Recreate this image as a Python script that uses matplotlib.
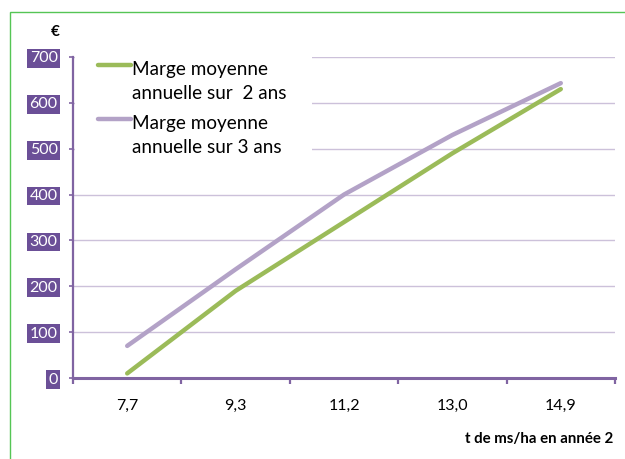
import matplotlib
matplotlib.use("Agg")
import matplotlib.pyplot as plt
from matplotlib.patches import Rectangle
from matplotlib.lines import Line2D

categories = ["7,7", "9,3", "11,2", "13,0", "14,9"]
marge_2ans = [10, 190, 340, 490, 630]
marge_3ans = [70, 237, 400, 530, 643]
series_labels = [["Marge moyenne", "annuelle sur  2 ans"],
                 ["Marge moyenne", "annuelle sur 3 ans"]]
yticks = [0, 100, 200, 300, 400, 500, 600, 700]

FONT = "Lato"
plt.rcParams['font.family'] = [FONT, 'DejaVu Sans']

GREEN = "#9BBB59"
LAV = "#B3A2C7"
AXIS = "#8064A2"
GRID = "#CCC1DA"
BOX = "#6B4F97"

W, H = 625, 459
fig = plt.figure(figsize=(W / 100, H / 100), dpi=100)
fig.patch.set_facecolor("white")

# green border
fig.patches.append(Rectangle((10 / W, -0.1), 1.2, 1 - 12 / H + 0.1,
                             transform=fig.transFigure, fill=False,
                             edgecolor="#55C555", linewidth=1.0))

ax = fig.add_axes([73 / W, 1 - 378 / H, (615 - 73) / W, (378 - 57) / H])
x = list(range(len(categories)))

ax.set_xlim(-0.5, len(categories) - 0.5)
ax.set_ylim(0, 700)

for s in ["top", "right"]:
    ax.spines[s].set_visible(False)
ax.spines["left"].set_color(AXIS)
ax.spines["left"].set_linewidth(1.6)
ax.spines["bottom"].set_color(AXIS)
ax.spines["bottom"].set_linewidth(2.2)

ax.set_yticks(yticks)
ax.set_yticklabels([str(v) for v in yticks])
ax.yaxis.grid(True, color=GRID, linewidth=1.0)
ax.set_axisbelow(True)
ax.tick_params(axis="y", direction="out", length=3, width=1.2, color=AXIS,
               pad=8, labelsize=11.5, labelcolor="white")
for lab in ax.get_yticklabels():
    lab.set_bbox(dict(boxstyle="square,pad=0.15", facecolor=BOX, edgecolor="none"))

ax.set_xticks(x)
ax.set_xticklabels(categories)
ax.set_xticks([i - 0.5 for i in range(len(categories) + 1)], minor=True)
ax.tick_params(axis="x", which="major", length=0, pad=15, labelsize=11.5, labelcolor="black")
ax.tick_params(axis="x", which="minor", direction="out", length=4, width=1.6, color=AXIS)

# white legend area covering gridlines
ax.add_patch(Rectangle((0.004, 0.68), 0.437, 0.34, transform=ax.transAxes,
                       facecolor="white", edgecolor="none", zorder=1.5, clip_on=False))

ax.plot(x, marge_2ans, color=GREEN, linewidth=3.2, solid_capstyle="round", zorder=3)
ax.plot(x, marge_3ans, color=LAV, linewidth=3.2, solid_capstyle="round", zorder=3)

def px2ax(px, py):
    return (px - 73) / 542, (378 - py) / 321

# manual legend
for color, lines, hy, ty in [(GREEN, series_labels[0], 65, 67.5),
                             (LAV, series_labels[1], 119, 121.7)]:
    x0, y0 = px2ax(98, hy)
    x1, _ = px2ax(131, hy)
    ax.add_line(Line2D([x0, x1], [y0, y0], transform=ax.transAxes, color=color,
                       linewidth=3.2, solid_capstyle="round", zorder=4, clip_on=False))
    for k, t in enumerate(lines):
        tx, tyy = px2ax(132, ty + 24.3 * k)
        ax.text(tx, tyy, t, transform=ax.transAxes, ha="left", va="center_baseline",
                fontsize=13.6, color="black", zorder=4)

fig.text(55 / W, 1 - 32 / H, "€", ha="center", va="center", fontsize=11,
         fontweight="bold", color="black")
fig.text(613 / W, 1 - 439 / H, "t de ms/ha en année 2", ha="right", va="center",
         fontsize=10.8, fontweight="bold", color="black")

fig.savefig("out.png", dpi=100)
